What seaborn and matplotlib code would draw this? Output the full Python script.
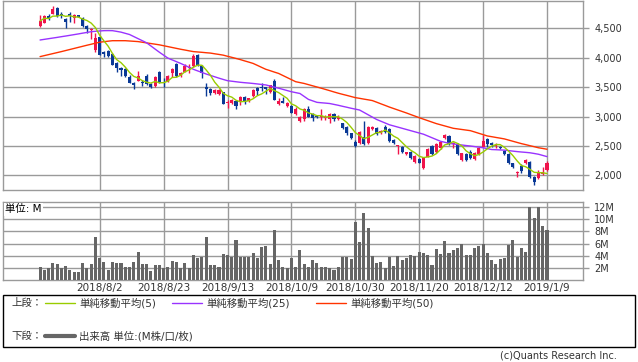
import numpy as np
import pandas as pd
import matplotlib
matplotlib.use('Agg')
import matplotlib.pyplot as plt
from matplotlib.patches import Rectangle
from matplotlib.lines import Line2D
import seaborn as sns

# ---- data (one entry per trading day 2018/7/12 .. 2019/1/9) ----
opens = [4540, 4590, 4710, 4737, 4839, 4737, 4652, 4737, 4664, 4720,
         4664, 4539, 4460, 4127, 4353, 4099, 4110, 4060, 3901, 3816,
         3799, 3675, 3573, 3607, 3590, 3690, 3550, 3522, 3760, 3590,
         3590, 3735, 3890, 3705, 3760, 3816, 3861, 4042, 3861, 3506,
         3460, 3393, 3381, 3410, 3223, 3223, 3263, 3251, 3325, 3268,
         3347, 3477, 3505, 3494, 3421, 3607, 3212, 3263, 3183, 3178,
         3037, 2929, 2952, 3121, 3037, 3008, 2985, 2969, 2952, 3037,
         2960, 2884, 2828, 2715, 2573, 2545, 2658, 2545, 2782, 2799,
         2715, 2828, 2782, 2602, 2500, 2488, 2370, 2404, 2234, 2274,
         2121, 2319, 2500, 2404, 2460, 2630, 2669, 2534, 2534, 2262,
         2364, 2404, 2274, 2364, 2488, 2613, 2557, 2500, 2489, 2421,
         2364, 2206, 2036, 2160, 2206, 2234, 1980, 1960, 2030, 2093]
highs = [4720, 4720, 4737, 4878, 4861, 4777, 4664, 4765, 4731, 4725,
         4692, 4550, 4500, 4410, 4364, 4110, 4127, 4071, 3929, 3845,
         3816, 3703, 3590, 3777, 3618, 3715, 3562, 3686, 3777, 3646,
         3698, 3816, 3901, 3760, 3890, 3890, 4054, 4054, 3873, 3573,
         3477, 3466, 3460, 3420, 3280, 3290, 3280, 3347, 3347, 3320,
         3460, 3494, 3573, 3505, 3534, 3630, 3308, 3325, 3251, 3195,
         3167, 3008, 3138, 3178, 3054, 3025, 3121, 3025, 3054, 3054,
         3025, 2895, 2839, 2726, 2602, 2760, 2929, 2839, 2839, 2816,
         2771, 2856, 2799, 2613, 2517, 2500, 2400, 2421, 2347, 2291,
         2319, 2460, 2517, 2545, 2590, 2703, 2686, 2573, 2545, 2387,
         2375, 2432, 2404, 2471, 2686, 2630, 2573, 2545, 2500, 2432,
         2375, 2217, 2082, 2190, 2274, 2250, 1991, 2093, 2150, 2240]
lows = [4525, 4580, 4635, 4737, 4692, 4664, 4505, 4607, 4590, 4680,
        4523, 4410, 4308, 4099, 4042, 4003, 4003, 3873, 3760, 3686,
        3675, 3573, 3460, 3607, 3520, 3535, 3478, 3505, 3562, 3505,
        3580, 3675, 3675, 3675, 3748, 3732, 3845, 3861, 3647, 3347,
        3364, 3380, 3370, 3212, 3138, 3210, 3121, 3195, 3206, 3250,
        3336, 3364, 3438, 3381, 3393, 3280, 3195, 3223, 3166, 3054,
        3025, 2912, 2929, 2986, 2929, 2969, 2940, 2940, 2884, 2929,
        2940, 2782, 2686, 2613, 2477, 2528, 2517, 2528, 2771, 2686,
        2700, 2726, 2573, 2530, 2364, 2387, 2350, 2274, 2217, 2206,
        2110, 2307, 2347, 2387, 2450, 2613, 2517, 2460, 2347, 2245,
        2245, 2274, 2262, 2347, 2477, 2489, 2489, 2460, 2443, 2347,
        2195, 2121, 1980, 2050, 2195, 1952, 1839, 1940, 2000, 2075]
closes = [4620, 4710, 4652, 4822, 4709, 4709, 4596, 4709, 4720, 4692,
          4539, 4477, 4490, 4336, 4042, 4060, 4025, 3873, 3816, 3788,
          3686, 3573, 3534, 3686, 3560, 3555, 3495, 3675, 3575, 3565,
          3686, 3805, 3695, 3745, 3860, 3845, 4031, 3873, 3732, 3460,
          3395, 3449, 3449, 3215, 3251, 3280, 3180, 3325, 3240, 3308,
          3449, 3438, 3477, 3466, 3534, 3280, 3268, 3234, 3223, 3065,
          3121, 2997, 3121, 2997, 2969, 2986, 3000, 2997, 3037, 2952,
          2995, 2799, 2715, 2630, 2500, 2743, 2534, 2828, 2828, 2698,
          2760, 2743, 2590, 2545, 2511, 2404, 2390, 2291, 2330, 2217,
          2291, 2443, 2364, 2528, 2573, 2686, 2534, 2557, 2364, 2375,
          2262, 2291, 2387, 2460, 2590, 2534, 2517, 2517, 2460, 2364,
          2206, 2138, 2065, 2070, 2262, 1980, 1890, 2040, 2055, 2206]

ma25 = [4297, 4308, 4319, 4330, 4341, 4353, 4364, 4376, 4388, 4400,
        4413, 4425, 4438, 4444, 4450, 4455, 4456, 4455, 4443, 4430,
        4410, 4390, 4355, 4320, 4285, 4250, 4197, 4143, 4090, 4040,
        3990, 3960, 3930, 3900, 3867, 3833, 3800, 3773, 3747, 3720,
        3697, 3673, 3650, 3628, 3607, 3598, 3589, 3580, 3573, 3567,
        3560, 3552, 3543, 3535, 3517, 3498, 3480, 3460, 3440, 3420,
        3405, 3390, 3340, 3290, 3265, 3240, 3233, 3227, 3220, 3205,
        3190, 3173, 3157, 3140, 3125, 3110, 3070, 3030, 2990, 2950,
        2920, 2890, 2860, 2840, 2820, 2800, 2780, 2760, 2740, 2720,
        2700, 2670, 2640, 2610, 2580, 2563, 2545, 2535, 2525, 2517,
        2508, 2500, 2490, 2480, 2470, 2455, 2440, 2437, 2433, 2430,
        2422, 2413, 2405, 2398, 2392, 2385, 2373, 2360, 2340, 2320]
ma50 = [4015, 4032, 4049, 4066, 4083, 4100, 4118, 4136, 4154, 4172,
        4190, 4208, 4225, 4243, 4260, 4268, 4277, 4285, 4285, 4285,
        4285, 4280, 4275, 4270, 4259, 4248, 4237, 4226, 4215, 4200,
        4185, 4170, 4155, 4140, 4127, 4113, 4100, 4094, 4088, 4081,
        4075, 4063, 4052, 4040, 4021, 4003, 3984, 3965, 3943, 3922,
        3900, 3867, 3833, 3800, 3777, 3753, 3730, 3695, 3660, 3625,
        3590, 3575, 3560, 3540, 3520, 3500, 3480, 3459, 3438, 3416,
        3395, 3376, 3358, 3339, 3320, 3308, 3295, 3283, 3270, 3243,
        3215, 3188, 3160, 3135, 3110, 3085, 3060, 3033, 3007, 2980,
        2955, 2930, 2905, 2880, 2860, 2840, 2820, 2800, 2790, 2780,
        2770, 2760, 2738, 2715, 2693, 2670, 2658, 2645, 2633, 2620,
        2600, 2580, 2560, 2540, 2523, 2505, 2488, 2470, 2458, 2445]

volume = [2.1, 1.7, 1.9, 2.8, 2.6, 1.9, 2.3, 1.6, 1.3, 1.3,
          2.8, 2.0, 2.6, 7.1, 3.6, 3.0, 1.6, 3.0, 2.8, 2.8,
          2.1, 2.1, 3.0, 4.6, 2.6, 2.6, 1.5, 2.5, 2.5, 2.0,
          2.1, 3.1, 3.0, 1.9, 2.8, 2.0, 4.1, 3.6, 3.8, 7.1,
          2.5, 2.5, 2.1, 4.3, 4.1, 3.8, 6.6, 3.8, 3.8, 3.8,
          4.5, 3.6, 5.4, 5.6, 2.6, 8.2, 3.3, 2.1, 2.0, 3.6,
          2.1, 4.9, 2.6, 2.1, 3.3, 2.8, 2.1, 2.1, 2.0, 1.6,
          2.1, 3.8, 3.8, 3.5, 9.6, 6.3, 11.0, 8.6, 4.0, 2.8,
          3.0, 2.0, 3.8, 2.3, 4.0, 3.3, 3.6, 4.1, 4.0, 4.6,
          4.5, 4.1, 2.5, 5.1, 4.3, 6.4, 4.5, 4.9, 5.3, 5.9,
          4.1, 4.1, 5.3, 5.6, 5.9, 4.5, 3.3, 2.6, 3.5, 3.6,
          5.8, 6.6, 3.8, 5.3, 4.6, 12.0, 10.2, 12.0, 8.9, 8.2]

tick_pos = [14, 29, 44, 59, 74, 89, 104, 119]
tick_labels = ['2018/8/2', '2018/8/23', '2018/9/13', '2018/10/9',
               '2018/10/30', '2018/11/20', '2018/12/12', '2019/1/9']
price_ticks = [2000, 2500, 3000, 3500, 4000, 4500]
vol_ticks = [2, 4, 6, 8, 10, 12]

# ---- style ----
sns.set_style('white')
plt.rcParams['font.family'] = ['DejaVu Sans', 'Noto Sans CJK JP']

RED = '#f0144b'
BLUE = '#0a3996'
C5, C25, C50 = '#99cc00', '#9933ff', '#ff3300'
GRID = '#9a9a9a'
TXT = '#333333'

W, H = 638, 362
fig = plt.figure(figsize=(W / 100, H / 100), dpi=100)


def px_axes(x0, y0, x1, y1):
    return fig.add_axes([x0 / W, 1 - y1 / H, (x1 - x0) / W, (y1 - y0) / H])


ax1 = px_axes(3, 1, 583, 190)
ax2 = px_axes(3, 202, 583, 280)

df = pd.DataFrame({'open': opens, 'high': highs, 'low': lows, 'close': closes,
                   'ma25': ma25, 'ma50': ma50, 'volume': volume})
df['idx'] = np.arange(len(df))
df['ma5'] = df['close'].rolling(5, min_periods=1).mean()
up = df['close'] >= df['open']
colors = np.where(up, RED, BLUE)

# candles
ax1.vlines(df['idx'], df['low'], df['high'], colors=colors, lw=1, zorder=3)
body_bot = df[['open', 'close']].min(axis=1)
body_h = (df['close'] - df['open']).abs().clip(lower=17)
ax1.bar(df['idx'], body_h, bottom=body_bot, width=0.72, color=colors,
        linewidth=0, zorder=3)

# moving averages
sns.lineplot(data=df, x='idx', y='ma50', ax=ax1, color=C50, lw=1, zorder=4)
sns.lineplot(data=df, x='idx', y='ma25', ax=ax1, color=C25, lw=1, zorder=4)
sns.lineplot(data=df, x='idx', y='ma5', ax=ax1, color=C5, lw=1, zorder=5)

# volume
sns.barplot(data=df, x='idx', y='volume', ax=ax2, native_scale=True,
            color='#666666', saturation=1, width=0.72, linewidth=0, zorder=3)

xlim = (-8.7, 127.45)
for ax in (ax1, ax2):
    ax.set_xlim(*xlim)
    ax.set_xticks(tick_pos)
    ax.grid(True, color=GRID, lw=1, zorder=0)
    ax.set_axisbelow(True)
    ax.yaxis.tick_right()
    ax.tick_params(axis='y', right=True, length=4, width=1, color=GRID,
                   labelsize=7, labelcolor=TXT, pad=4)
    ax.tick_params(axis='x', length=0)
    ax.set_xlabel('')
    ax.set_ylabel('')
    for s in ax.spines.values():
        s.set_color(GRID)
        s.set_linewidth(1)

ax1.set_ylim(1754, 4958)
ax1.set_yticks(price_ticks)
ax1.set_yticklabels([f'{v:,}' for v in price_ticks])
ax1.set_xticklabels([])

ax2.set_ylim(0, 12.83)
ax2.set_yticks(vol_ticks)
ax2.set_yticklabels([f'{v}M' for v in vol_ticks])
ax2.set_xticklabels(tick_labels, fontsize=7.5, color=TXT)
ax2.tick_params(axis='x', pad=2)
ax2.text(0.004, 0.97, '単位: M', transform=ax2.transAxes, fontsize=7.5,
         color='black', va='top', ha='left', zorder=6,
         bbox=dict(facecolor='white', edgecolor='none', pad=1.2))

# legend box
fig.patches.append(Rectangle((3 / W, 1 - 347 / H), 632 / W, 52 / H,
                             transform=fig.transFigure, fill=False,
                             edgecolor='black', lw=1))


def fx(x):
    return x / W


def fy(y):
    return 1 - y / H


fs = 7.5
fig.text(fx(11), fy(303), '上段：', fontsize=fs, va='center', color=TXT)
fig.text(fx(11), fy(336), '下段：', fontsize=fs, va='center', color=TXT)
legend_items = [(45, C5, '単純移動平均(5)'), (172, C25, '単純移動平均(25)'),
                (316, C50, '単純移動平均(50)')]
for x0, col, lab in legend_items:
    fig.lines.append(Line2D([fx(x0), fx(x0 + 30)], [fy(303), fy(303)],
                            transform=fig.transFigure, color=col, lw=1))
    fig.text(fx(x0 + 34), fy(303), lab, fontsize=fs, va='center', color=TXT)
fig.lines.append(Line2D([fx(45), fx(75)], [fy(336), fy(336)],
                        transform=fig.transFigure, color='#666666', lw=3))
fig.text(fx(79), fy(336), '出来高 単位:(M株/口/枚)', fontsize=fs, va='center',
         color=TXT)

fig.text(fx(617), fy(355), '(c)Quants Research Inc.', fontsize=7,
         ha='right', va='center', color=TXT)

fig.savefig('out.png', dpi=100, facecolor='white')
